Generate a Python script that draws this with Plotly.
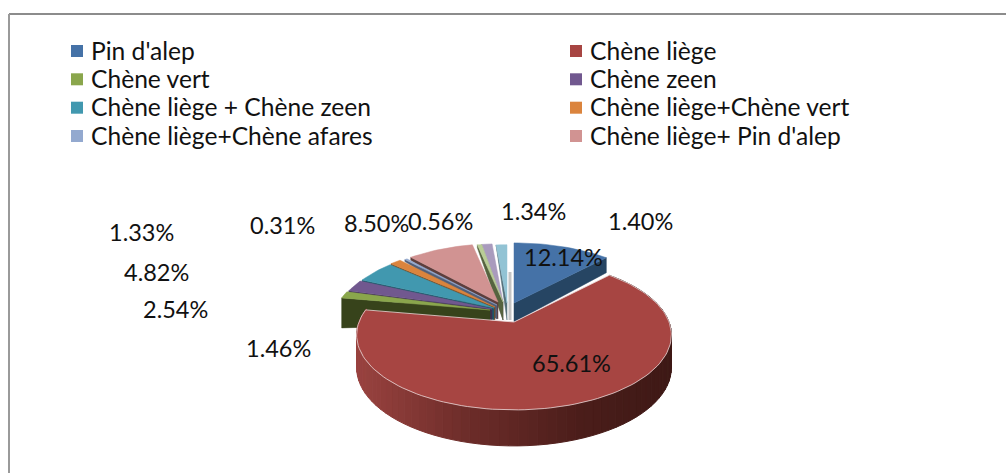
import numpy as np
import plotly.graph_objects as go

# ---- data ----
categories = ["Pin d'alep", "Chène liège", "Chène vert", "Chène zeen",
              "Chène liège + Chène zeen", "Chène liège+Chène vert",
              "Chène liège+Chène afares", "Chène liège+ Pin d'alep"]
values = [12.14, 65.61, 1.46, 2.54, 4.82, 1.33, 0.31, 8.50, 0.56, 1.34, 1.40]

# ---- style ----
top_colors = ["#4572A7", "#A74542", "#8AA64C", "#71588F", "#4198AF", "#DB843D",
              "#93A9CF", "#D19392", "#B9CD96", "#A99BBD", "#92C3D4"]
wall_colors = ["#264563", "#5a2523", "#37431B", "#3f2f52", "#1f5566", "#7a4a20",
               "#525f78", "#5c3e3d", "#56633f", "#5d5468", "#55707a"]
apex = [(514, 303), (514, 322), (490, 310), (492, 309), (494, 308), (495, 307),
        (497, 305), (498, 302), (503, 302), (503, 302), (507, 303)]
scale = [0.97, 1, 1, 1, 1, 1, 0.97, 0.94, 0.94, 0.94, 0.94]
wall_apex = [19, 0, 14, 11, 12, 13, 14, 17, 18, 18, 17]
wall_outer = [15, 0, 30, 2, 2, 2, 2, 3, 3, 3, 3]
label_pos = [(563, 257), (571, 363), (278, 348), (175, 309), (156, 272), (141, 232),
             (282, 225), (376, 223), (440, 221), (533, 211), (640, 221)]
legend_x = [77, 576]
legend_text_x = [89, 588]
legend_y = [51, 79.3, 107.7, 136]
FONT = "Lato"
LEG_SIZE = 24.6
LAB_SIZE = 23.5
RX, RY, K = 155.0, 72.7, 0.173


def project(theta, s, ap):
    t = np.radians(theta)
    w = 1 + K * np.cos(t)
    return ap[0] + s * RX * np.sin(t) / w, ap[1] - s * RY * np.cos(t) / w


def lerp_color(t):
    stops = [(0.0, (0x9a, 0x43, 0x40)), (0.35, (0x6d, 0x2d, 0x2a)),
             (0.7, (0x4c, 0x1e, 0x1b)), (1.0, (0x3e, 0x19, 0x16))]
    for (a, ca), (b, cb) in zip(stops, stops[1:]):
        if t <= b:
            f = (t - a) / (b - a)
            c = [int(p + (q - p) * f) for p, q in zip(ca, cb)]
            return "rgb(%d,%d,%d)" % tuple(c)
    return "rgb(62,25,22)"


edges = np.concatenate([[0], np.cumsum(values)]) / sum(values) * 360
fig = go.Figure()


def poly(xs, ys, color, line=None, lw=0.5):
    fig.add_trace(go.Scatter(x=list(xs), y=list(ys), mode="lines", fill="toself",
                             fillcolor=color, line=dict(color=line or color, width=lw),
                             hoverinfo="skip", showlegend=False))


def slice_top(i):
    th = np.linspace(edges[i], edges[i + 1], max(3, int((edges[i + 1] - edges[i]) / 2) + 2))
    x, y = project(th, scale[i], apex[i])
    poly(np.r_[apex[i][0], x, apex[i][0]], np.r_[apex[i][1], y, apex[i][1]], top_colors[i])


# back-to-front painter's order for the exploded slices
for i in [10, 9, 8, 7, 6, 5, 4, 3, 2]:
    cx, cy = project(edges[i], scale[i], apex[i])
    ax, ay = apex[i]
    poly([cx, ax, ax, cx, cx],
         [cy, ay, ay + wall_apex[i], cy + wall_outer[i], cy], wall_colors[i])
    slice_top(i)

# blue slice: its visible cut wall, then the top
cx, cy = project(edges[1], scale[0], apex[0])
ax, ay = apex[0]
poly([cx, ax, ax, cx, cx], [cy, ay, ay + wall_apex[0], cy + wall_outer[0], cy], wall_colors[0])
slice_top(0)

# big slice: shaded rim, then the top
rim = np.arange(edges[1], edges[2] + 3, 3.0)
for a, b in zip(rim[:-1], rim[1:]):
    xa, ya = project(a, 1, apex[1])
    xb, yb = project(b, 1, apex[1])
    da = 32 - 4 * np.cos(np.radians(a))
    db = 32 - 4 * np.cos(np.radians(b))
    col = lerp_color(float(np.clip(((xa + xb) / 2 - 357) / 315, 0, 1)))
    poly([xa, xb, xb, xa, xa], [ya, yb, yb + db, ya + da, ya], col, lw=1)
th = np.linspace(edges[1], edges[2], 120)
x, y = project(th, 1, apex[1])
poly(np.r_[apex[1][0], x, apex[1][0]], np.r_[apex[1][1], y, apex[1][1]], top_colors[1],
     line="rgba(235,215,215,0.8)", lw=1)

# legend, two columns
for i, name in enumerate(categories):
    fig.add_trace(go.Scatter(
        x=[legend_x[i % 2]], y=[legend_y[i // 2]], mode="markers",
        marker=dict(symbol="square", size=12, color=top_colors[i]),
        name=name, showlegend=False, hoverinfo="skip"))
    fig.add_annotation(x=legend_text_x[i % 2], y=legend_y[i // 2] - 1, text=name,
                       xanchor="left", showarrow=False,
                       font=dict(family=FONT, size=LEG_SIZE, color="#111"))

# data labels
for v, (lx, ly) in zip(values, label_pos):
    fig.add_annotation(x=lx, y=ly, text=f"{v:.2f}%", showarrow=False,
                       font=dict(family=FONT, size=LAB_SIZE, color="#111"))

# chart frame: top and left edges
fig.add_shape(type="line", x0=9, y0=14, x1=1006, y1=14, line=dict(color="#8c8c8c", width=2))
fig.add_shape(type="line", x0=9, y0=14, x1=9, y1=473, line=dict(color="#9a9a9a", width=2))
# gray sliver beside the first slice
fig.add_shape(type="line", x0=510, y0=272, x1=510, y1=320, line=dict(color="#c4c4c4", width=3), layer="below")

fig.update_layout(
    width=1006, height=473, margin=dict(l=0, r=0, t=0, b=0),
    paper_bgcolor="white", plot_bgcolor="white", showlegend=False,
    xaxis=dict(range=[0, 1006], visible=False, fixedrange=True),
    yaxis=dict(range=[473, 0], visible=False, fixedrange=True),
)
fig.write_html("out.html", config=dict(displayModeBar=False),
               post_script="document.body.style.margin='0';document.body.style.overflow='hidden';")
